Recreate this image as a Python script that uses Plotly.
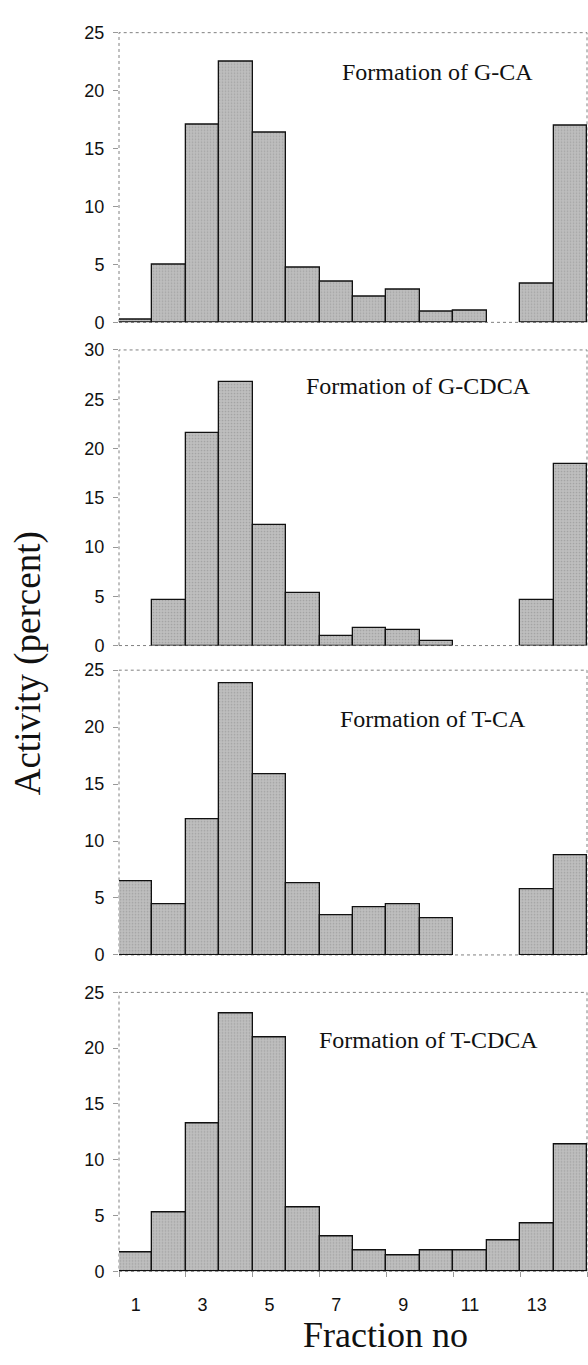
import plotly.graph_objects as go

fractions = list(range(1, 15))
g_ca = [0.2, 5.0, 17.1, 22.5, 16.4, 4.7, 3.5, 2.2, 2.8, 0.9, 1.0, None, 3.3, 17.0]
g_cdca = [None, 4.6, 21.6, 26.8, 12.2, 5.3, 1.0, 1.8, 1.6, 0.5, None, None, 4.6, 18.4]
t_ca = [6.5, 4.5, 11.9, 23.9, 15.9, 6.3, 3.5, 4.2, 4.5, 3.2, None, None, 5.8, 8.8]
t_cdca = [1.7, 5.3, 13.3, 23.1, 21.0, 5.7, 3.1, 1.9, 1.4, 1.9, 1.9, 2.8, 4.3, 11.4]

series = [g_ca, g_cdca, t_ca, t_cdca]
titles = ["Formation of G-CA", "Formation of G-CDCA", "Formation of T-CA", "Formation of T-CDCA"]
y_max = [25, 30, 25, 25]
x_tick_vals = [1, 3, 5, 7, 9, 11, 13]
x_tick_text = ["1", "3", "5", "7", "9", "11", "13"]

W, H = 588, 1365
panel_px = [(23, 317), (345, 645), (670, 959), (997, 1280)]  # top, bottom in px
title_pos = [(437, 63), (418, 382), (433, 720), (428, 1045)]
x_left, x_right = 119, 587

SERIF = "Liberation Serif, Times New Roman, serif"
SANS = "Liberation Sans, Arial, sans-serif"

fig = go.Figure()
layout = dict(
    width=W, height=H,
    margin=dict(l=0, r=0, t=0, b=0),
    paper_bgcolor="white", plot_bgcolor="white",
    showlegend=False, bargap=0,
    font=dict(family=SANS, size=18, color="#111"),
)
annotations = []
shapes = []

for i, (vals, ttl, ym) in enumerate(zip(series, titles, y_max)):
    n = i + 1
    xa = "x" if n == 1 else f"x{n}"
    ya = "y" if n == 1 else f"y{n}"
    fig.add_trace(go.Bar(
        x=fractions, y=vals, xaxis=xa, yaxis=ya, width=1,
        marker=dict(color="#b3b3b3", line=dict(color="#111", width=1.3),
                    pattern=dict(shape=".", size=3, solidity=0.25,
                                 fgcolor="#888888", bgcolor="#bebebe")),
    ))
    top, bot = panel_px[i]
    dom_y = [1 - bot / H, 1 - top / H]
    dom_x = [x_left / W, x_right / W]
    last = (n == 4)
    layout[f"xaxis{'' if n == 1 else n}"] = dict(
        domain=dom_x, anchor=ya, range=[0.5, 14.5],
        showgrid=False, zeroline=False, showline=False,
        tickmode="array", tickvals=x_tick_vals, ticktext=x_tick_text,
        showticklabels=last, ticks="outside" if last else "", ticklen=0,
        ticklabelstandoff=17,
        minor=dict(tick0=0.5, dtick=2, ticks="outside" if last else "",
                   ticklen=5, tickcolor="#999", tickwidth=1),
        tickfont=dict(family=SANS, size=18, color="#111"),
        fixedrange=True,
    )
    layout[f"yaxis{'' if n == 1 else n}"] = dict(
        domain=dom_y, anchor=xa, range=[0, ym],
        showgrid=False, zeroline=False, showline=False,
        tickmode="linear", tick0=0, dtick=5,
        ticks="outside", ticklen=5, tickcolor="#999", tickwidth=1,
        ticklabelstandoff=5,
        tickfont=dict(family=SANS, size=18, color="#111"),
        fixedrange=True,
    )
    shapes.append(dict(type="rect", xref=f"{xa} domain", yref=f"{ya} domain",
                       x0=0, x1=1, y0=0, y1=1, layer="below",
                       line=dict(color="#808080", width=1, dash="dot")))
    tx, ty = title_pos[i]
    annotations.append(dict(
        text=ttl, showarrow=False, xref=f"{xa} domain", yref=f"{ya} domain",
        x=(tx - x_left) / (x_right - x_left), y=(bot - ty) / (bot - top),
        xanchor="center", yanchor="middle",
        font=dict(family=SERIF, size=24, color="#111"),
    ))

annotations.append(dict(
    text="Activity (percent)", showarrow=False, xref="paper", yref="paper",
    x=28 / W, y=1 - 663 / H, xanchor="center", yanchor="middle", textangle=-90,
    font=dict(family=SERIF, size=37, color="#111"),
))
annotations.append(dict(
    text="Fraction no", showarrow=False, xref="paper", yref="paper",
    x=385 / W, y=1 - 1345 / H, xanchor="center", yanchor="middle",
    font=dict(family=SERIF, size=36, color="#111"),
))

layout["annotations"] = annotations
layout["shapes"] = shapes
fig.update_layout(**layout)
fig.write_html("out.html")
